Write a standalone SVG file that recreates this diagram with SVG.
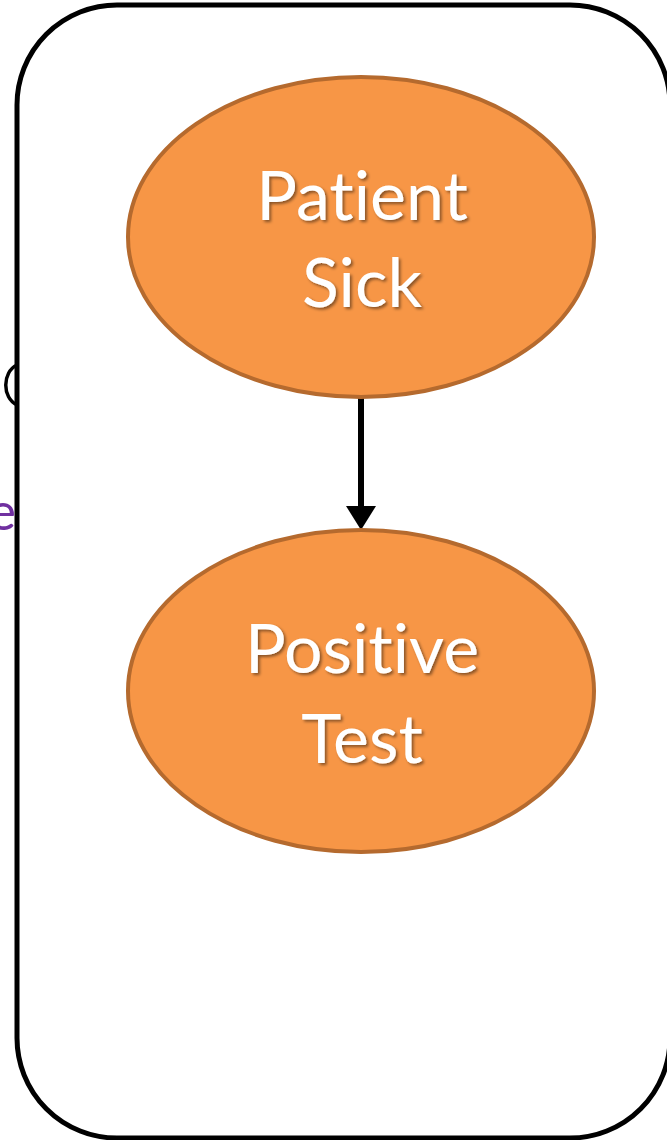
<svg xmlns="http://www.w3.org/2000/svg" width="667" height="1140" viewBox="0 0 667 1140">
<defs>
<style>
.node{fill:#F79646;stroke:#B56A2E;stroke-width:4}
.lbl{font-family:Lato,"Open Sans","Noto Sans",sans-serif;font-size:68px;fill:#fff;text-anchor:middle;filter:url(#sh);font-variant-ligatures:none;font-feature-settings:"liga" 0}
</style>
<filter id="sh" x="-20%" y="-20%" width="140%" height="140%">
<feDropShadow dx="2" dy="2" stdDeviation="1.5" flood-color="#000" flood-opacity="0.45"/>
</filter>
<marker id="ah" markerWidth="5" markerHeight="5" refX="0" refY="2.5" orient="auto" markerUnits="strokeWidth">
<path d="M0,0 L4,2.5 L0,5 z" fill="#000"/>
</marker>
</defs>
<rect width="667" height="1140" fill="#fff"/>
<text x="16" y="530" font-family="Lato,'Open Sans',sans-serif" font-size="52" fill="#7030A0" text-anchor="end">e</text>
<path d="M17,365 C2,372 2,398 17,405" fill="none" stroke="#000" stroke-width="3.5"/>
<rect id="frame" x="17" y="5" width="653" height="1133" rx="100" ry="100" fill="#fff" stroke="#000" stroke-width="5"/>
<g id="connectors">
<line x1="361" y1="398" x2="361" y2="506" stroke="#000" stroke-width="6" marker-end="url(#ah)"/>
</g>
<g id="patient-sick">
<ellipse class="node" cx="361" cy="237" rx="233" ry="160"/>
<text class="lbl" x="362" y="220">Patient</text>
<text class="lbl" x="362" y="307">Sick</text>
</g>
<g id="positive-test">
<ellipse class="node" cx="361" cy="691" rx="233" ry="161"/>
<text class="lbl" x="362" y="673">Positive</text>
<text class="lbl" x="362" y="763">Test</text>
</g>
</svg>
